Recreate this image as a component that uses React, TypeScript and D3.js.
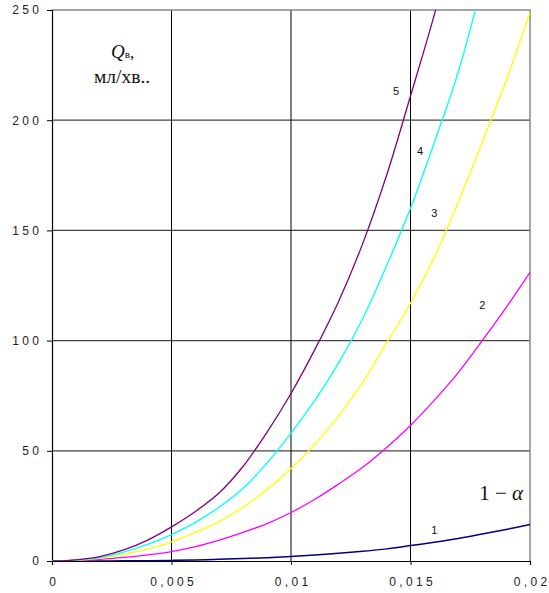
import { useEffect, useRef } from "react";
import * as d3 from "d3";

// chart size and plot margins
const W = 549;
const H = 593;
const margin = { top: 10, right: 19, bottom: 32, left: 52 };

// x values (1 - alpha), step 0.001
const xs = [0, 0.001, 0.002, 0.003, 0.004, 0.005, 0.006, 0.007, 0.008, 0.009, 0.01,
  0.011, 0.012, 0.013, 0.014, 0.015, 0.016, 0.017, 0.018, 0.019, 0.02];

// Q, ml/min
const curve1 = [0, 0.003, 0.02, 0.06, 0.15, 0.28, 0.5, 0.75, 1.1, 1.5, 2.0,
  2.7, 3.5, 4.4, 5.5, 7.0, 8.5, 10.2, 12.2, 14.3, 16.6];
const curve2 = [0, 0.2, 0.7, 1.6, 2.8, 4.3, 6.5, 9.5, 13, 17, 22,
  28, 35, 42.5, 51.5, 61.5, 73, 85.5, 100, 115, 131];
const curve3 = [0, 0.3, 1.2, 3, 5.5, 8.7, 13, 18, 24.5, 32.5, 42,
  53, 66, 81, 99, 117, 138, 163, 190, 218, 249];
const curve4 = [0, 0.4, 1.5, 4, 7.5, 12, 17.5, 24.5, 33, 44.5, 58,
  73, 90, 110, 134, 160, 190, 222, 262];
const curve5 = [0, 0.5, 2, 5, 9.5, 15.5, 22.5, 31, 43, 58.5, 76,
  96, 118, 144, 175, 211, 248, 290];

const seriesNames = ["1", "2", "3", "4", "5"];
const seriesColors = ["#000080", "#ff00ff", "#ffff00", "#00ffff", "#800080"];
// where the curve numbers sit, in data units
const labelX = [0.0160, 0.0180, 0.0160, 0.0154, 0.0144];
const labelY = [14, 116, 158, 186, 213];

const yTicks = [0, 50, 100, 150, 200, 250];
const xTicks = [0, 0.005, 0.01, 0.015, 0.02];
const xTickLabels = ["0", "0,005", "0,01", "0,015", "0,02"];

const spaced = (s: string) => s.split("").join(" ");

export default function App() {
  const ref = useRef<SVGSVGElement>(null);

  useEffect(() => {
    const svg = d3.select(ref.current);
    svg.selectAll("*").remove();

    const x = d3.scaleLinear().domain([0, 0.02]).range([margin.left, W - margin.right]);
    const y = d3.scaleLinear().domain([0, 250]).range([H - margin.bottom, margin.top]);

    svg.append("defs").append("clipPath").attr("id", "plot")
      .append("rect")
      .attr("x", x(0)).attr("y", y(250))
      .attr("width", x(0.02) - x(0)).attr("height", y(0) - y(250));

    // horizontal grid
    svg.append("g").selectAll("line")
      .data(yTicks.filter(d => d > 0 && d < 250))
      .join("line")
      .attr("x1", x(0)).attr("x2", x(0.02))
      .attr("y1", d => y(d)).attr("y2", d => y(d))
      .attr("stroke", "#444").attr("stroke-width", 1.3);

    // vertical grid
    svg.append("g").selectAll("line")
      .data(xTicks.filter(d => d > 0 && d < 0.02))
      .join("line")
      .attr("x1", d => x(d)).attr("x2", d => x(d))
      .attr("y1", y(0)).attr("y2", y(250))
      .attr("stroke", "#000").attr("stroke-width", 1);

    // top and right border
    svg.append("path")
      .attr("d", `M${x(0)},${y(250)}H${x(0.02)}V${y(0)}`)
      .attr("fill", "none").attr("stroke", "#888").attr("stroke-width", 1.5);

    // axes
    const yAxis = svg.append("g").attr("transform", `translate(${x(0)},0)`)
      .call(d3.axisLeft(y).tickValues(yTicks).tickSize(5).tickFormat(d => spaced(String(d))));
    const xAxis = svg.append("g").attr("transform", `translate(0,${y(0)})`)
      .call(d3.axisBottom(x).tickValues(xTicks).tickSize(4)
        .tickFormat((d, i) => spaced(xTickLabels[i])));
    [yAxis, xAxis].forEach(g => {
      g.select(".domain").attr("stroke", "#000").attr("stroke-width", 1.2);
      g.selectAll(".tick line").attr("stroke", "#000");
      g.selectAll(".tick text")
        .attr("font-family", "Liberation Sans, Arial, sans-serif")
        .attr("font-size", 12).attr("fill", "#222");
    });
    yAxis.selectAll(".tick text").attr("x", -13);
    xAxis.selectAll(".tick text").attr("y", 16);

    // curves
    const all = [curve1, curve2, curve3, curve4, curve5];
    const line = d3.line<number>()
      .x((_, i) => x(xs[i]))
      .y(d => y(d))
      .curve(d3.curveCatmullRom.alpha(0.5));
    svg.append("g").attr("clip-path", "url(#plot)")
      .selectAll("path")
      .data(all)
      .join("path")
      .attr("d", d => line(d))
      .attr("fill", "none")
      .attr("stroke", (_, i) => seriesColors[i])
      .attr("stroke-width", (_, i) => (i === 0 ? 1.5 : 1.3));

    // curve numbers
    svg.append("g").selectAll("text")
      .data(seriesNames)
      .join("text")
      .attr("x", (_, i) => x(labelX[i]))
      .attr("y", (_, i) => y(labelY[i]))
      .attr("dy", "0.35em")
      .attr("text-anchor", "middle")
      .attr("font-family", "Liberation Sans, Arial, sans-serif")
      .attr("font-size", 11)
      .attr("fill", "#111")
      .text(d => d);

    // axis titles
    const serif = "Liberation Serif, Times New Roman, serif";
    const q = svg.append("text").attr("x", 111).attr("y", 58)
      .attr("font-family", serif).attr("fill", "#111");
    q.append("tspan").attr("font-size", 19).attr("font-style", "italic").text("Q");
    q.append("tspan").attr("font-size", 11).text("в");
    q.append("tspan").attr("font-size", 17).text(",");
    svg.append("text").attr("x", 94).attr("y", 83)
      .attr("font-family", serif).attr("font-size", 19.5).attr("fill", "#111")
      .text("мл/хв..");

    const a = svg.append("text").attr("x", 523).attr("y", 500)
      .attr("text-anchor", "end")
      .attr("font-family", serif).attr("font-size", 21).attr("fill", "#111");
    a.append("tspan").text("1 − ");
    a.append("tspan").attr("font-style", "italic").text("α");
  }, []);

  return (
    <svg ref={ref} width={W} height={H}
      style={{ position: "absolute", left: 0, top: 0, background: "#fff" }} />
  );
}
